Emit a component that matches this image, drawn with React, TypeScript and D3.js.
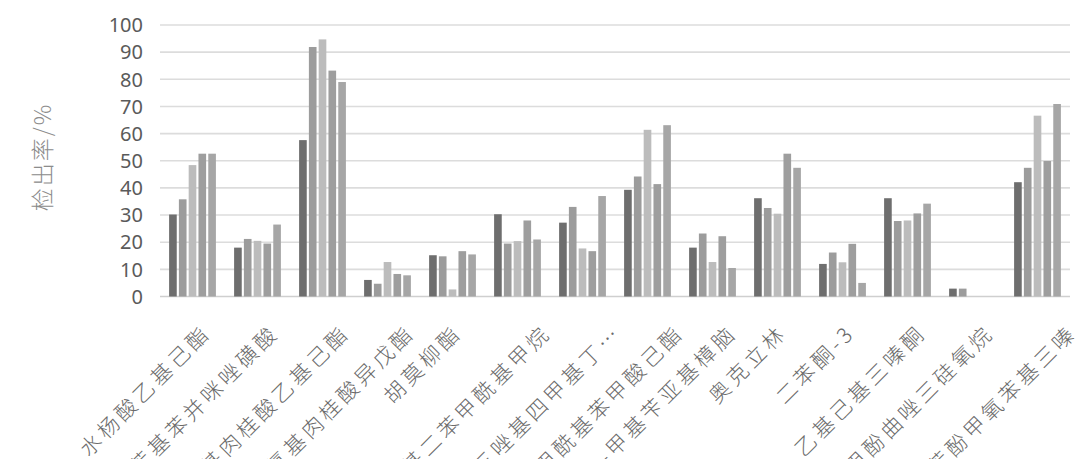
import React from 'react';
import {scaleBand, scaleLinear, range} from 'd3';

// categories (x axis)
const categories = [
  '水杨酸乙基己酯',
  '苯基苯并咪唑磺酸',
  '甲氧基肉桂酸乙基己酯',
  '对甲氧基肉桂酸异戊酯',
  '胡莫柳酯',
  '丁基甲氧基二苯甲酰基甲烷',
  '亚甲基双苯并三唑基四甲基丁…',
  '二乙氨羟苯甲酰基苯甲酸己酯',
  '4-甲基苄亚基樟脑',
  '奥克立林',
  '二苯酮-3',
  '乙基己基三嗪酮',
  '甲酚曲唑三硅氧烷',
  '双-乙基己氧苯酚甲氧苯基三嗪',
];

// five series, one value per category (detection rate, %)
const series1 = [30.2, 18.0, 57.6, 6.1, 15.2, 30.3, 27.2, 39.3, 18.0, 36.2, 12.0, 36.2, 2.9, 42.1];
const series2 = [35.8, 21.2, 91.9, 4.7, 14.8, 19.5, 33.0, 44.2, 23.2, 32.6, 16.2, 27.8, 2.9, 47.4];
const series3 = [48.4, 20.5, 94.7, 12.7, 2.6, 20.4, 17.7, 61.4, 12.7, 30.5, 12.6, 28.0, 0, 66.6];
const series4 = [52.6, 19.5, 83.2, 8.3, 16.7, 28.0, 16.7, 41.4, 22.2, 52.6, 19.4, 30.6, 0, 49.9];
const series5 = [52.6, 26.5, 79.0, 7.8, 15.5, 21.0, 37.0, 63.1, 10.5, 47.4, 5.0, 34.2, 0, 70.9];

const allSeries = [series1, series2, series3, series4, series5];
const seriesColors = ['#6e6e6e', '#9c9c9c', '#bcbcbc', '#9e9e9e', '#a6a6a6'];
const yTicks = range(0, 101, 10);

const W = 1080, H = 459;
const margin = {top: 25, right: 10, bottom: 163, left: 160};

const App = () => {
  const x = scaleBand<string>()
    .domain(categories)
    .range([margin.left, W - margin.right])
    .paddingInner(0.28)
    .paddingOuter(0.14);

  const xs = scaleBand<number>()
    .domain(range(allSeries.length))
    .range([0, x.bandwidth()])
    .paddingInner(0.22);

  const y = scaleLinear()
    .domain([0, 100])
    .range([H - margin.bottom + 0.5, margin.top]);

  const cjk = '"Noto Sans CJK SC", "Noto Sans", sans-serif';

  return (
    <svg width={W} height={H} style={{position: 'absolute', left: 0, top: 0, background: '#fff'}}>
      {/* gridlines */}
      {yTicks.map(t => (
        <line key={t} x1={margin.left} x2={W - margin.right} y1={y(t)} y2={y(t)}
          stroke={t === 0 ? '#cfcfcf' : '#dcdcdc'} strokeWidth={1.6} />
      ))}
      {/* y tick labels */}
      {yTicks.map(t => (
        <text key={'t' + t} x={143} y={y(t)} dy="0.36em" textAnchor="end"
          fontFamily='"Noto Sans", sans-serif' fontSize={20} fill="#5a5a5a">{t}</text>
      ))}
      {/* y axis title */}
      <text transform={`translate(43,157) rotate(-90)`} textAnchor="middle" dy="0.35em"
        fontFamily={cjk} fontSize={23} fontWeight={300} letterSpacing={2} fill="#8c8c8c">检出率/%</text>

      {/* bars */}
      {categories.map((c, i) => (
        <g key={c} transform={`translate(${x(c)},0)`}>
          {allSeries.map((s, j) => s[i] > 0 ? (
            <rect key={j} x={xs(j)} width={xs.bandwidth()} y={y(s[i])} height={y(0) - y(s[i])}
              fill={seriesColors[j]} />
          ) : null)}
        </g>
      ))}

      {/* category labels, rotated */}
      {categories.map(c => {
        const n = [...c].length;
        const cx = (x(c) as number) + x.bandwidth() / 2;
        const ax = cx + 3 * n - 1;
        const ay = 334;
        return (
          <text key={'l' + c} transform={`translate(${ax},${ay}) rotate(-45)`} textAnchor="end"
            fontFamily={cjk} fontSize={21} fontWeight={300} letterSpacing={4} fill="#6a6a6a">{c}</text>
        );
      })}
    </svg>
  );
};

export default App;
